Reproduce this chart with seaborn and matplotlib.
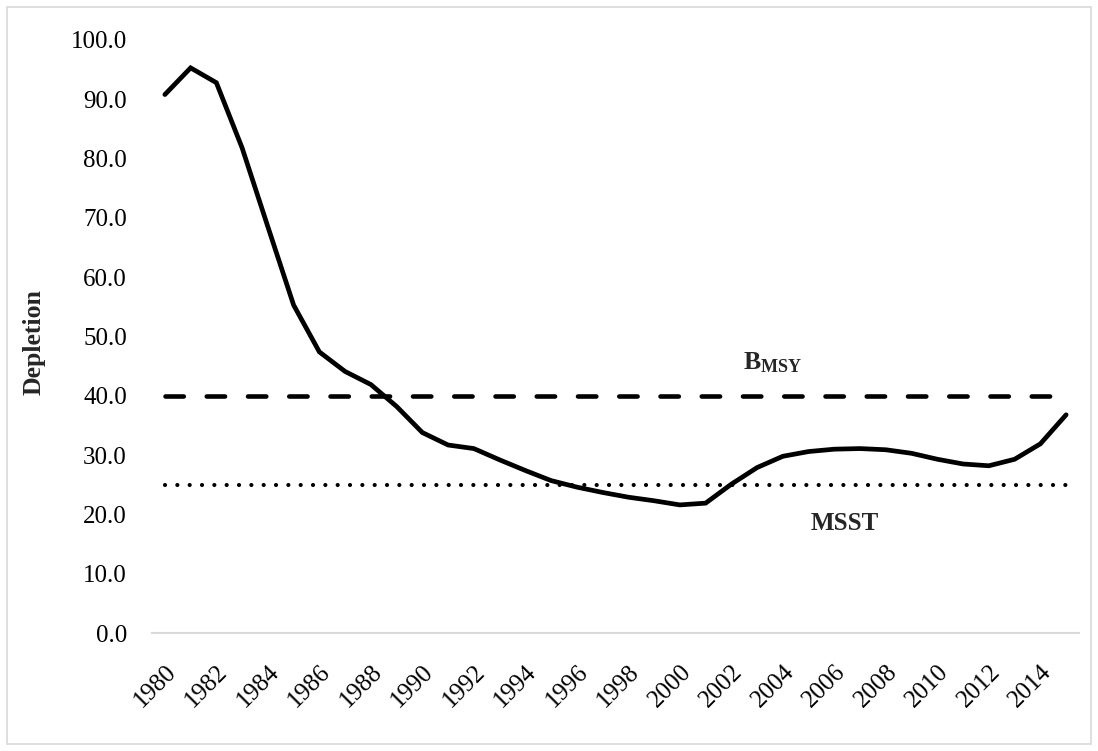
import matplotlib
matplotlib.use("Agg")
import matplotlib.pyplot as plt
import matplotlib.transforms as mtransforms
from matplotlib.patches import Rectangle
import pandas as pd
import seaborn as sns

# values
years = list(range(1980, 2016))
depletion = [90.8, 95.3, 92.8, 81.8, 68.5, 55.3, 47.4, 44.1, 41.9, 38.2,
             33.8, 31.7, 31.1, 29.2, 27.4, 25.7, 24.6, 23.7, 22.9, 22.3,
             21.6, 21.9, 25.1, 27.9, 29.8, 30.6, 31.0, 31.1, 30.9, 30.3,
             29.3, 28.5, 28.2, 29.3, 31.9, 36.8]
b_msy = 40.0
msst = 25.0
tick_years = list(range(1980, 2016, 2))
y_ticks = [0, 10, 20, 30, 40, 50, 60, 70, 80, 90, 100]

sns.set_theme(style="white")
plt.rcParams["font.family"] = ["Liberation Serif", "DejaVu Serif"]
plt.rcParams["mathtext.fontset"] = "custom"
plt.rcParams["mathtext.rm"] = "Liberation Serif"
plt.rcParams["mathtext.bf"] = "Liberation Serif:bold"

df = pd.DataFrame({"year": years, "depletion": depletion})

fig = plt.figure(figsize=(10.98, 7.51), dpi=100)
ax = fig.add_axes([152 / 1098, 1 - 633 / 751, (1079 - 152) / 1098, (633 - 40) / 751])

# chart area border
fig.patches.append(Rectangle((7 / 1098, 7 / 751), 1084 / 1098, 737 / 751,
                             transform=fig.transFigure, fill=False,
                             edgecolor="#d9d9d9", linewidth=1.2))

ax.hlines(b_msy, years[0], years[-1], colors="black", linewidth=3.3,
          linestyles=(0, (4.0, 5.0)), capstyle="round")
ax.hlines(msst, years[0], years[-1], colors="black", linewidth=3.0,
          linestyles=(0, (0.01, 2.95)), capstyle="round")
sns.lineplot(data=df, x="year", y="depletion", ax=ax, color="black",
             linewidth=3.4, solid_joinstyle="miter")

ax.set_xlim(1979.5, 2015.5)
ax.set_ylim(0, 100)
ax.set_yticks(y_ticks)
ax.set_yticklabels([f"{v:.1f}" for v in y_ticks], fontsize=18)
ax.set_xticks(tick_years)
ax.set_xticklabels([str(y) for y in tick_years], fontsize=18,
                   rotation=45, ha="right", va="top", rotation_mode="anchor")
offset = mtransforms.ScaledTranslation(-11 / 100, 0, fig.dpi_scale_trans)
for lbl in ax.get_xticklabels():
    lbl.set_transform(lbl.get_transform() + offset)

ax.tick_params(axis="both", length=0, colors="black")
ax.tick_params(axis="y", pad=18)
ax.tick_params(axis="x", pad=20)

for side in ["top", "right", "left"]:
    ax.spines[side].set_visible(False)
ax.spines["bottom"].set_color("#d9d9d9")
ax.spines["bottom"].set_linewidth(1.5)

ax.set_xlabel("")
ax.set_ylabel("Depletion", fontsize=18.5, fontweight="bold")
ax.yaxis.set_label_coords(-(152 - 46) / 927, (633 - 342) / 593)

ax.text(2002.45, 45.6, r"$\mathbf{B_{MSY}}$", fontsize=18.5, ha="left", va="center")
ax.text(2006.4, 18.5, "MSST", fontsize=18, fontweight="bold", ha="center", va="center")

fig.savefig("out.png", dpi=100)
